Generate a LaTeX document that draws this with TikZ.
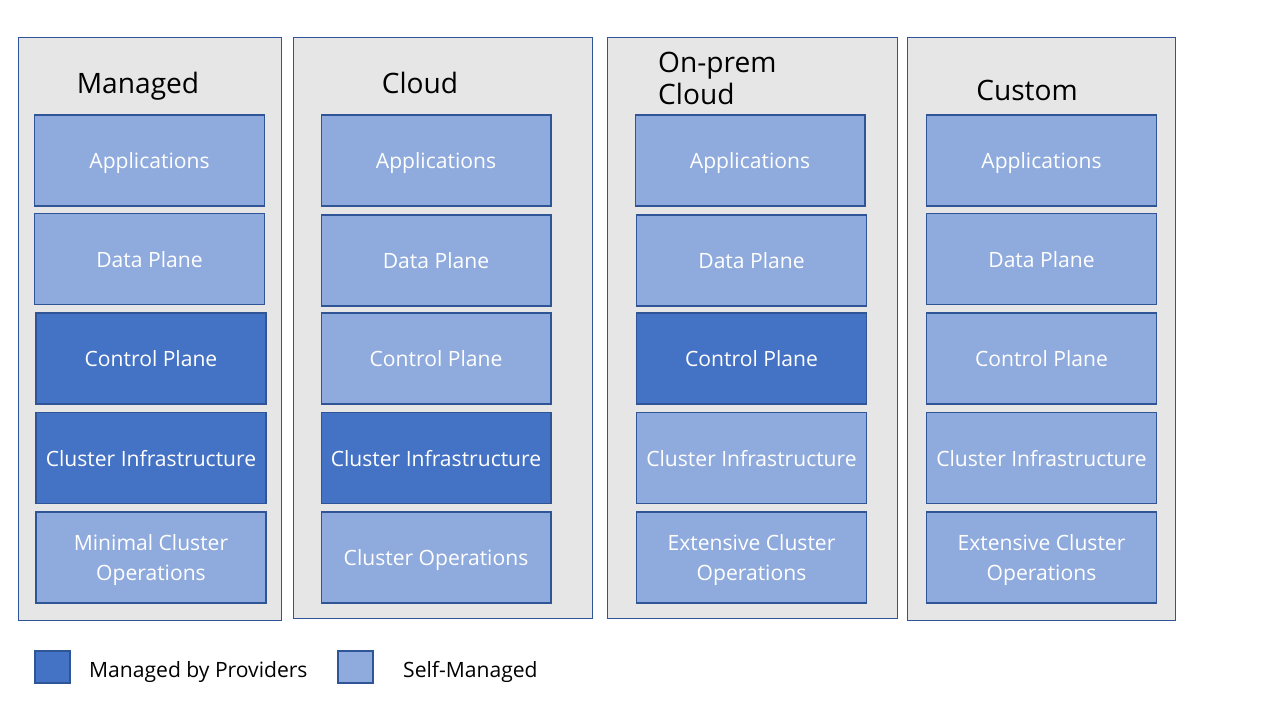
\documentclass[tikz,border=0pt]{standalone}
\usepackage{fontspec}
\setmainfont{Open Sans}
\usepackage{tikz}
\usetikzlibrary{positioning}
\definecolor{panelgray}{HTML}{E7E6E6}
\definecolor{edgeblue}{HTML}{2F5597}
\definecolor{selfblue}{HTML}{8FAADC}
\definecolor{provblue}{HTML}{4472C4}
\tikzset{
  panel/.style={draw=edgeblue, line width=0.5pt, fill=panelgray},
  layer/.style={draw=edgeblue, line width=0.6pt, minimum width=4.6cm, minimum height=1.82cm,
                text=white, align=center, text depth=0pt, font=\fontsize{12}{17}\selectfont},
  selfbox/.style={layer, fill=selfblue},
  provbox/.style={layer, fill=provblue},
  title/.style={text=black, text depth=0pt, font=\fontsize{16}{18}\selectfont},
  keybox/.style={draw=edgeblue, line width=0.6pt, minimum width=0.7cm, minimum height=0.64cm},
  keytext/.style={anchor=west, text depth=0pt, font=\fontsize{12}{14}\selectfont}
}
\begin{document}
\begin{tikzpicture}[x=0.02cm, y=-0.02cm]
    \useasboundingbox[fill=white] (0,0) rectangle (1280,720);
    % Panels
    \node[panel, minimum width=5.26cm, minimum height=11.66cm] (managed) at (149.5,328.5) {};
    \node[panel, minimum width=5.98cm, minimum height=11.62cm] (cloud) at (442.5,327.5) {};
    \node[panel, minimum width=5.8cm, minimum height=11.62cm] (onprem) at (752,327.5) {};
    \node[panel, minimum width=5.36cm, minimum height=11.66cm] (custom) at (1041,328.5) {};
    % Titles
    \node[title] (managedtitle) at (138,83) {Managed};
    \node[title] (cloudtitle) at (420,83) {Cloud};
    \node[title, anchor=west, align=left] (onpremtitle) at (652,78) {On-prem\\Cloud};
    \node[title] (customtitle) at (1027,90) {Custom};
    % Managed column
    \node[selfbox] (managedapp) at (149.5,160.5) {Applications};
    \node[selfbox] (manageddata) at (149.5,259) {Data Plane};
    \node[provbox] (managedctrl) at (151,358.5) {Control Plane};
    \node[provbox] (managedinfra) at (151,458) {Cluster Infrastructure};
    \node[selfbox] (managedops) at (151,557.5) {Minimal Cluster\\Operations};
    % Cloud column
    \node[selfbox] (cloudapp) at (436,160.5) {Applications};
    \node[selfbox] (clouddata) at (436,260.5) {Data Plane};
    \node[selfbox] (cloudctrl) at (436,358.5) {Control Plane};
    \node[provbox] (cloudinfra) at (436,458) {Cluster Infrastructure};
    \node[selfbox] (cloudops) at (436,557.5) {Cluster Operations};
    % On-prem Cloud column
    \node[selfbox] (onpremapp) at (750,160.5) {Applications};
    \node[selfbox] (onpremdata) at (751.5,260.5) {Data Plane};
    \node[provbox] (onpremctrl) at (751.5,358.5) {Control Plane};
    \node[selfbox] (onpreminfra) at (751.5,458) {Cluster Infrastructure};
    \node[selfbox] (onpremops) at (751.5,557.5) {Extensive Cluster\\Operations};
    % Custom column
    \node[selfbox] (customapp) at (1041.5,160.5) {Applications};
    \node[selfbox] (customdata) at (1041.5,259) {Data Plane};
    \node[selfbox] (customctrl) at (1041.5,358.5) {Control Plane};
    \node[selfbox] (custominfra) at (1041.5,458) {Cluster Infrastructure};
    \node[selfbox] (customops) at (1041.5,557.5) {Extensive Cluster\\Operations};
    % Legend
    \node[keybox, fill=provblue] (provkey) at (52.5,667) {};
    \node[keytext] (provlabel) at (83,669) {Managed by Providers};
    \node[keybox, fill=selfblue] (selfkey) at (355.5,667) {};
    \node[keytext] (selflabel) at (397,669) {Self-Managed};
\end{tikzpicture}
\end{document}
